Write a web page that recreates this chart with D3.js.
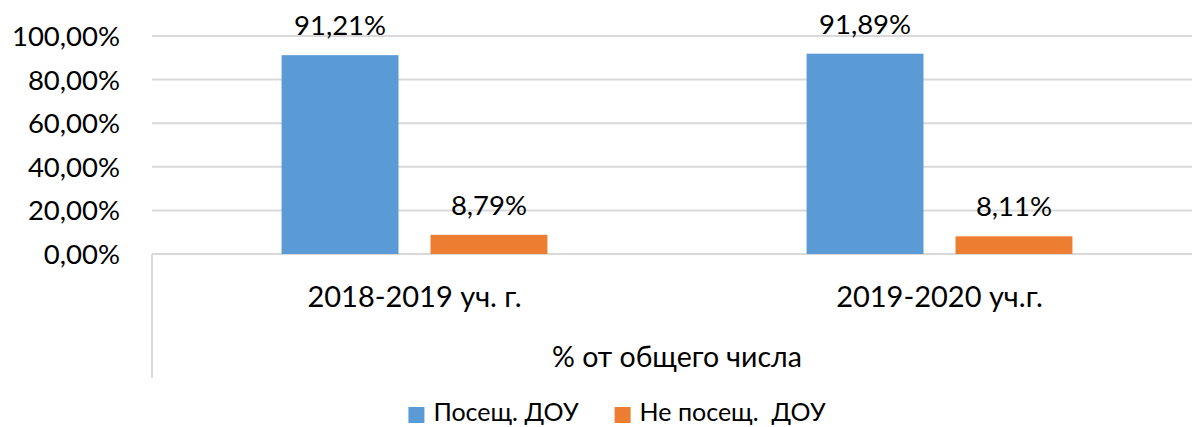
<!DOCTYPE html>
<html>
<head>
<meta charset="utf-8">
<script src="https://cdn.jsdelivr.net/npm/d3@7"></script>
<style>
  body { margin: 0; background: #fff; }
  svg { display: block; font-family: Lato, "Noto Sans", sans-serif; }
</style>
</head>
<body>
<svg id="chart"></svg>
<script>
const categories = ["2018-2019 уч. г.", "2019-2020 уч.г."];
const seriesNames = ["Посещ. ДОУ", "Не посещ.  ДОУ"];
const attending = [0.9121, 0.9189];
const notAttending = [0.0879, 0.0811];
const yTicks = [0, 0.2, 0.4, 0.6, 0.8, 1.0];
const axisTitle = "% от общего числа";

const colors = ["#5B9BD5", "#ED7D31"];
const seriesValues = [attending, notAttending];

const chartWidth = 1192, chartHeight = 427;
const plotLeft = 152, plotRight = 1202, plotTop = 36, plotBottom = 254;

const ru = d3.formatLocale({ decimal: ",", thousands: " ", grouping: [3], currency: ["", " ₽"] });
const pct = ru.format(".2%");

const svg = d3.select("#chart").attr("width", chartWidth).attr("height", chartHeight);

const x0 = d3.scaleBand().domain(categories).range([plotLeft, plotRight]);
const x1 = d3.scaleBand().domain(seriesNames).range([0, x0.bandwidth()])
    .paddingInner(0.215).paddingOuter(0.87);
const y = d3.scaleLinear().domain([0, 1]).range([plotBottom, plotTop]);

// gridlines
svg.append("g")
    .selectAll("line")
    .data(yTicks.filter(d => d > 0))
    .enter().append("line")
    .attr("x1", plotLeft).attr("x2", plotRight)
    .attr("y1", d => y(d)).attr("y2", d => y(d))
    .style("stroke", "#D9D9D9").style("stroke-width", 2);

// y tick labels
svg.append("g")
    .selectAll("text")
    .data(yTicks)
    .enter().append("text")
    .attr("x", 120)
    .attr("y", d => y(d))
    .attr("dy", "0.36em")
    .attr("text-anchor", "end")
    .style("font-size", "27.5px")
    .style("fill", "#000")
    .text(d => pct(d));

// category axis lines
svg.append("line")
    .attr("x1", plotLeft).attr("x2", plotRight).attr("y1", plotBottom).attr("y2", plotBottom)
    .style("stroke", "#D9D9D9").style("stroke-width", 2);
svg.append("line")
    .attr("x1", plotLeft).attr("x2", plotLeft).attr("y1", plotBottom).attr("y2", 378)
    .style("stroke", "#D9D9D9").style("stroke-width", 2);

// bars
const rows = categories.map((c, i) => seriesNames.map((s, j) => ({ cat: c, name: s, value: seriesValues[j][i], color: colors[j] })));

const groups = svg.append("g")
    .selectAll("g")
    .data(rows)
    .enter().append("g")
    .attr("transform", (d, i) => `translate(${x0(categories[i])},0)`);

groups.selectAll("rect")
    .data(d => d)
    .enter().append("rect")
    .attr("x", d => x1(d.name))
    .attr("width", x1.bandwidth())
    .attr("y", d => y(d.value))
    .attr("height", d => y(0) - y(d.value))
    .style("fill", d => d.color);

groups.selectAll("text")
    .data(d => d)
    .enter().append("text")
    .attr("x", d => x1(d.name) + x1.bandwidth() / 2)
    .attr("y", d => y(d.value) - 20)
    .attr("text-anchor", "middle")
    .style("font-size", "27.5px")
    .style("fill", "#000")
    .text(d => pct(d.value));

// category labels
svg.append("g")
    .selectAll("text")
    .data(categories)
    .enter().append("text")
    .attr("x", d => x0(d) + x0.bandwidth() / 2)
    .attr("y", 307)
    .attr("text-anchor", "middle")
    .style("font-size", "29px")
    .style("fill", "#000")
    .text(d => d);

svg.append("text")
    .attr("x", 677)
    .attr("y", 367)
    .attr("text-anchor", "middle")
    .style("font-size", "28.5px")
    .style("fill", "#000")
    .text(axisTitle);

// legend
const legend = svg.append("g");
let lx = 0;
seriesNames.forEach((name, i) => {
    const item = legend.append("g").attr("transform", `translate(${lx},0)`);
    item.append("rect").attr("x", 0).attr("y", 407).attr("width", 16).attr("height", 16).style("fill", colors[i]);
    const t = item.append("text").attr("x", 25).attr("y", 421)
        .style("font-size", "25px").style("fill", "#000")
        .style("white-space", "pre")
        .text(name);
    lx += 25 + t.node().getComputedTextLength() + 36;
});
const lw = lx - 36;
legend.attr("transform", `translate(${617 - lw / 2},0)`);
</script>
</body>
</html>
